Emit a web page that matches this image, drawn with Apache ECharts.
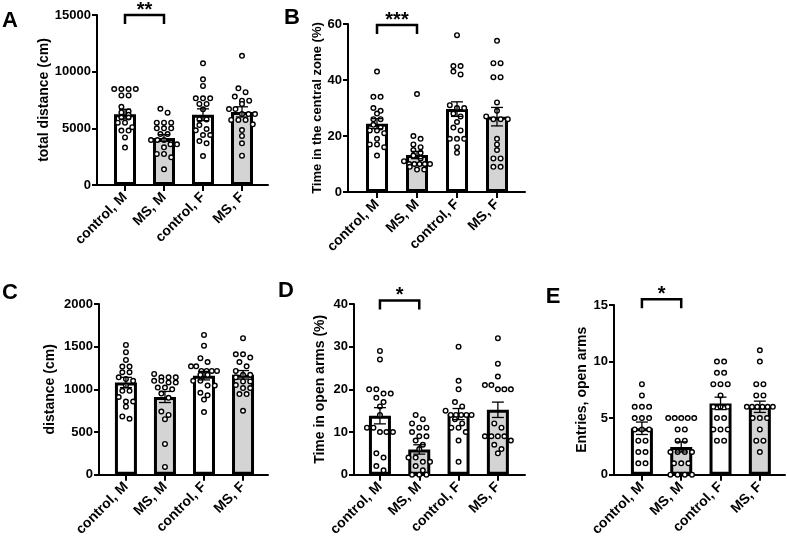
<!DOCTYPE html>
<html><head><meta charset="utf-8">
<script src="https://cdn.jsdelivr.net/npm/echarts@6/dist/echarts.min.js"></script>
<style>html,body{margin:0;padding:0;background:#fff}#c{width:787px;height:539px}</style>
</head><body><div id="c"></div>
<script>
// ---------- DATA ----------
const categories = ['control, M', 'MS, M', 'control, F', 'MS, F'];

// A: total distance (cm)
const aMeans = [6250, 4150, 6200, 6450];
const aSems = [430, 300, 520, 450];
const aCtrlM = [8470, 8470, 8470, 8470, 7900, 7900, 6900, 6500, 6400, 6200, 5950, 5950, 5500, 5500, 5100, 4800, 4800, 4200, 3300];
const aMsM = [6730, 6380, 5500, 5500, 5500, 5000, 5000, 5000, 4500, 4500, 3970, 3970, 3970, 3590, 3590, 3320, 2740, 2740, 2440, 1380];
const aCtrlF = [10740, 9320, 8740, 7650, 7650, 7650, 7150, 7150, 6680, 5790, 5790, 5290, 4940, 4820, 4410, 4410, 3880, 3680, 2560];
const aMsF = [11400, 8530, 8190, 7800, 7440, 7440, 7150, 6700, 6700, 6260, 6260, 6260, 5740, 5740, 5740, 5350, 4850, 4330, 3680, 2590];
const aSig = [0, 1, 15000, '**'];

// B: Time in the central zone (%)
const bMeans = [24.4, 13.2, 29.6, 26.9];
const bSems = [1.8, 1.3, 2.6, 3.3];
const bCtrlM = [43, 34, 34, 30, 29, 28, 26, 26, 24, 23, 22, 22, 21, 19, 17, 17, 16, 13];
const bMsM = [35, 20, 19, 17, 16, 15, 14, 13, 12, 11, 10, 10, 10, 10, 10, 9, 8, 8];
const bCtrlF = [56, 45, 45, 43, 42, 31, 30, 30, 28, 27, 25, 23, 22, 19, 19, 19, 16, 14];
const bMsF = [54, 46, 46, 41, 41, 32, 29, 27, 26, 26, 26, 19, 17, 15, 12, 12, 9, 9];
const bSig = [0, 1, 59.6, '***'];

// C: distance (cm)
const cMeans = [1080, 910, 1160, 1170];
const cSems = [60, 65, 50, 50];
const cCtrlM = [1520, 1435, 1345, 1267, 1267, 1200, 1200, 1140, 1120, 1100, 1045, 982, 982, 910, 857, 857, 797, 682, 655];
const cMsM = [1180, 1140, 1140, 1140, 1100, 1100, 1080, 1080, 1020, 1020, 1000, 950, 900, 740, 700, 650, 360, 90];
const cCtrlF = [1637, 1512, 1365, 1320, 1270, 1270, 1216, 1216, 1216, 1216, 1170, 1170, 1100, 1100, 1045, 1045, 960, 930, 880, 733];
const cMsF = [1599, 1411, 1411, 1372, 1320, 1270, 1215, 1170, 1170, 1140, 1092, 1092, 1050, 1015, 1015, 944, 944, 749];

// D: Time in open arms (%)
const dMeans = [13.8, 5.9, 14.2, 15.2];
const dSems = [1.9, 1.1, 1.3, 1.8];
const dCtrlM = [29, 27, 20, 20, 19, 19, 18, 17, 16, 14, 11, 11, 10, 10, 10, 5, 4, 2, 1];
const dMsM = [14, 13, 12, 11, 11, 10, 9, 9, 8, 7, 6, 4, 4, 3, 3, 2, 1, 0, 0, 0];
const dCtrlF = [30, 22, 20, 17, 16, 15, 14, 14, 14, 14, 14, 13, 12, 11, 11, 10, 8, 3];
const dMsF = [32, 26, 23, 21, 21, 20, 20, 20, 12, 11, 9, 9, 9, 9, 8, 7, 6, 5];
const dSig = [0, 1, 40.8, '*'];

// E: Entries, open arms
const eMeans = [4.1, 2.45, 6.3, 6.0];
const eSems = [0.55, 0.45, 0.55, 0.5];
const eCtrlM = [8, 7, 6, 6, 6, 5, 5, 5, 4, 4, 4, 3, 3, 2, 2, 1, 1];
const eMsM = [5, 5, 5, 5, 5, 4, 4, 3, 3, 2, 2, 2, 2, 1, 1, 1, 0, 0, 0, 0];
const eCtrlF = [10, 10, 9, 9, 8, 8, 8, 7, 6, 6, 6, 5, 5, 4, 4, 4, 3, 3];
const eMsF = [11, 10, 8, 8, 7, 7, 6, 6, 6, 6, 6, 6, 5, 5, 5, 4, 3, 3, 2];
const eSig = [0, 1, 15.5, '*'];

// ---------- LAYOUT / STYLE ----------
const FONT = '"Liberation Sans", Arial, sans-serif';
const groupFill = ['#ffffff', '#d4d4d4', '#ffffff', '#d4d4d4'];
const panels = [
  {letter: 'A', lx: 10, ly: 21, grid: {left: 97, top: 15, width: 171, height: 170}, xMin: -0.718, xMax: 3.667, yMax: 15000, yInt: 5000,
   name: 'total distance (cm)', nameGap: 44, nameSize: 14, means: aMeans, sems: aSems, groups: [aCtrlM, aMsM, aCtrlF, aMsF], sig: aSig},
  {letter: 'B', lx: 292, ly: 18, grid: {left: 348, top: 24, width: 177, height: 168}, xMin: -0.725, xMax: 3.7, yMax: 60, yInt: 20,
   name: 'Time in the central zone (%)', nameGap: 21, nameSize: 13, means: bMeans, sems: bSems, groups: [bCtrlM, bMsM, bCtrlF, bMsF], sig: bSig},
  {letter: 'C', lx: 10, ly: 293, grid: {left: 99, top: 304, width: 169, height: 171}, xMin: -0.69, xMax: 3.64, yMax: 2000, yInt: 500,
   name: 'distance (cm)', nameGap: 42, nameSize: 14, means: cMeans, sems: cSems, groups: [cCtrlM, cMsM, cCtrlF, cMsF], sig: null},
  {letter: 'D', lx: 286, ly: 291, grid: {left: 354, top: 304, width: 171, height: 171}, xMin: -0.66, xMax: 3.69, yMax: 40, yInt: 10,
   name: 'Time in open arms (%)', nameGap: 27, nameSize: 14, means: dMeans, sems: dSems, groups: [dCtrlM, dMsM, dCtrlF, dMsF], sig: dSig},
  {letter: 'E', lx: 553, ly: 297, grid: {left: 614, top: 305, width: 171, height: 170}, xMin: -0.71, xMax: 3.64, yMax: 15, yInt: 5,
   name: 'Entries, open arms', nameGap: 25, nameSize: 14, means: eMeans, sems: eSems, groups: [eCtrlM, eMsM, eCtrlF, eMsF], sig: eSig}
];

// beeswarm layout: rows of nearby values spread horizontally (pixel based)
function swarm(values, gi, pxPerX, pxPerY) {
  const sorted = values.slice().sort((a, b) => b - a);
  const rows = [];
  let cur = null;
  sorted.forEach(v => {
    if (cur && (cur.start - v) * pxPerY < 5) cur.vals.push(v);
    else { cur = {start: v, vals: [v]}; rows.push(cur); }
  });
  const out = [];
  rows.forEach(r => {
    const n = r.vals.length;
    let d = 7.2;
    if ((n - 1) * d > 26) d = 26 / (n - 1);
    r.vals.forEach((v, k) => {
      const off = (k - (n - 1) / 2) * d;
      out.push([gi + off / pxPerX, v]);
    });
  });
  return out;
}

const grids = [], xAxes = [], yAxes = [], series = [], graphics = [];
panels.forEach((p, pi) => {
  grids.push(p.grid);
  const pxPerX = p.grid.width / (p.xMax - p.xMin);
  const pxPerY = p.grid.height / p.yMax;
  xAxes.push({
    type: 'value', gridIndex: pi, min: p.xMin, max: p.xMax,
    splitLine: {show: false},
    axisLine: {show: true, onZero: false, lineStyle: {color: '#000', width: 2}},
    axisTick: {show: true, customValues: [0, 1, 2, 3], length: 6, lineStyle: {color: '#000', width: 2}},
    axisLabel: {customValues: [0, 1, 2, 3], formatter: v => categories[Math.round(v)], rotate: 45, margin: 10,
      color: '#000', fontWeight: 'bold', fontSize: 14, fontFamily: FONT}
  });
  yAxes.push({
    type: 'value', gridIndex: pi, min: 0, max: p.yMax, interval: p.yInt,
    splitLine: {show: false},
    axisLine: {show: true, onZero: false, lineStyle: {color: '#000', width: 2}},
    axisTick: {show: true, length: 5, lineStyle: {color: '#000', width: 2}},
    axisLabel: {margin: 6, color: '#000', fontWeight: 'bold', fontSize: 13, fontFamily: FONT, formatter: v => String(v)},
    name: p.name, nameLocation: 'middle', nameGap: p.nameGap,
    nameTextStyle: {color: '#000', fontWeight: 'bold', fontSize: p.nameSize, fontFamily: FONT}
  });
  series.push({
    type: 'bar', xAxisIndex: pi, yAxisIndex: pi, barWidth: 22, z: 2,
    itemStyle: {borderColor: '#000', borderWidth: 3},
    data: p.means.map((m, i) => ({value: [i, m], itemStyle: {color: groupFill[i]}})),
    animation: false
  });
  let pts = [];
  p.groups.forEach((g, gi) => { pts = pts.concat(swarm(g, gi, pxPerX, pxPerY)); });
  series.push({
    type: 'scatter', xAxisIndex: pi, yAxisIndex: pi, z: 4, symbol: 'circle', symbolSize: 4.6,
    itemStyle: {color: '#fff', borderColor: '#000', borderWidth: 1.4, opacity: 1},
    data: pts, animation: false
  });
  series.push({
    type: 'custom', xAxisIndex: pi, yAxisIndex: pi, z: 5, clip: false,
    encode: {x: 0, y: 1},
    data: p.means.map((m, i) => [i, m, p.sems[i]]),
    renderItem: (params, api) => {
      const x = api.value(0), m = api.value(1), s = api.value(2);
      const t = api.coord([x, m + s]), b = api.coord([x, m - s]);
      const hw = 6, st = {stroke: '#000', lineWidth: 1.3};
      return {type: 'group', children: [
        {type: 'line', shape: {x1: t[0], y1: t[1], x2: b[0], y2: b[1]}, style: st},
        {type: 'line', shape: {x1: t[0] - hw, y1: t[1], x2: t[0] + hw, y2: t[1]}, style: st},
        {type: 'line', shape: {x1: b[0] - hw, y1: b[1], x2: b[0] + hw, y2: b[1]}, style: st}
      ]};
    },
    animation: false
  });
  if (p.sig) {
    series.push({
      type: 'custom', xAxisIndex: pi, yAxisIndex: pi, z: 6, clip: false,
      encode: {x: [0, 1], y: 2},
      data: [[p.sig[0], p.sig[1], p.sig[2]]],
      renderItem: (params, api) => {
        const p1 = api.coord([api.value(0), api.value(2)]);
        const p2 = api.coord([api.value(1), api.value(2)]);
        const leg = 9;
        return {type: 'group', children: [
          {type: 'polyline', shape: {points: [[p1[0], p1[1] + leg], [p1[0], p1[1]], [p2[0], p2[1]], [p2[0], p2[1] + leg]]},
           style: {stroke: '#000', lineWidth: 2.5, fill: null}},
          {type: 'text', x: (p1[0] + p2[0]) / 2, y: p1[1] - 5,
           style: {text: p.sig[3], font: 'bold 20px ' + FONT, fill: '#000', align: 'center', verticalAlign: 'middle'}}
        ]};
      },
      animation: false
    });
  }
  graphics.push({type: 'text', x: p.lx, y: p.ly,
    style: {text: p.letter, font: 'bold 22px ' + FONT, fill: '#000', align: 'center', verticalAlign: 'middle'}});
});

const chart = echarts.init(document.getElementById('c'));
chart.setOption({
  animation: false,
  backgroundColor: '#fff',
  grid: grids, xAxis: xAxes, yAxis: yAxes, series: series, graphic: graphics
});
</script>
</body></html>
